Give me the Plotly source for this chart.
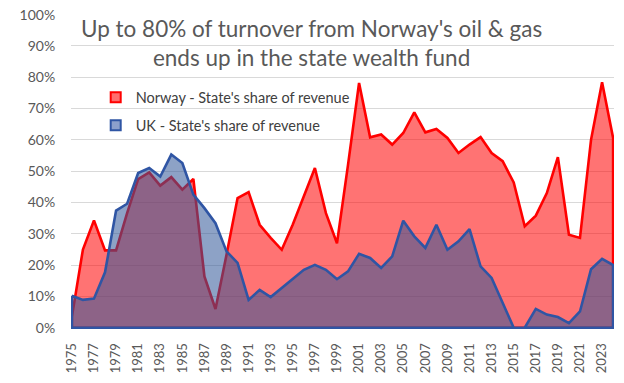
import plotly.graph_objects as go

years = list(range(1975, 2025))
norway = [3.5, 25, 34.3, 24.7, 24.7, 36.6, 47.5, 49.6, 45.4, 48.1,
          44.1, 47.5, 16.4, 6.0, 23.3, 41.4, 43.3, 32.9, 28.7, 24.9,
          33.0, 42.0, 51.0, 36.6, 27.0, 52.0, 78.2, 60.8, 61.7, 58.5,
          62.2, 68.8, 62.4, 63.5, 60.6, 55.8, 58.5, 60.9, 55.8, 53.2,
          46.4, 32.4, 35.8, 43.0, 54.5, 29.7, 28.7, 60.0, 78.4, 60.6]
uk = [10.2, 8.9, 9.3, 17.7, 37.4, 39.6, 49.4, 51.0, 48.3, 55.3,
      52.6, 42.5, 38.2, 33.4, 24.4, 20.7, 8.9, 12.1, 9.8, 12.7,
      15.5, 18.5, 20.1, 18.5, 15.5, 18.0, 23.6, 22.3, 19.1, 22.8,
      34.2, 29.2, 25.5, 32.9, 24.9, 27.6, 31.5, 19.6, 15.9, 8.0,
      0.0, 0.0, 6.0, 4.2, 3.4, 1.5, 5.2, 18.7, 22.0, 20.0]
tick_years = list(range(1975, 2025, 2))
y_ticks = [i / 10 for i in range(11)]
title_lines = ["Up to 80% of turnover from Norway's oil & gas", "ends up in the state wealth fund"]
names = ["Norway - State's share of revenue", "UK - State's share of revenue"]

FONT = "Lato"
GRAY = "#595959"

def poly(vals):
    xs = years + [years[-1], years[0], years[0]]
    ys = [v / 100 for v in vals] + [0, 0, vals[0] / 100]
    return xs, ys

fig = go.Figure()
nx, ny = poly(norway)
fig.add_trace(go.Scatter(x=nx, y=ny, mode="lines", fill="toself",
                         fillcolor="rgba(255,0,0,0.55)",
                         line=dict(color="#FF0000", width=2.6),
                         showlegend=False, hoverinfo="skip"))
ux, uy = poly(uk)
fig.add_trace(go.Scatter(x=ux, y=uy, mode="lines", fill="toself",
                         fillcolor="rgba(47,85,151,0.55)",
                         line=dict(color="#2F55A4", width=2.6),
                         showlegend=False, hoverinfo="skip"))
# legend entries
fig.add_trace(go.Scatter(x=[None], y=[None], mode="markers", name=names[0],
                         legendgroup="n",
                         marker=dict(symbol="square", size=10, color="rgba(255,110,110,1)",
                                     line=dict(color="#FF0000", width=2))))
fig.add_trace(go.Scatter(x=[None], y=[None], mode="markers", name=names[1],
                         legendgroup="u",
                         marker=dict(symbol="square", size=10, color="#8CA0CC",
                                     line=dict(color="#2F55A4", width=2))))

fig.update_layout(
    width=624, height=383,
    margin=dict(l=71, r=10, t=14, b=54, autoexpand=False),
    paper_bgcolor="white", plot_bgcolor="white",
    font=dict(family=FONT, color=GRAY),
    showlegend=True,
    legend=dict(x=0.0455, y=0.786, xanchor="left", yanchor="top",
                bgcolor="rgba(0,0,0,0)", font=dict(size=14.5, color="#404040"),
                traceorder="grouped", tracegroupgap=6, itemwidth=30),
    xaxis=dict(range=[1974.92, 2024.08], tickmode="array", tickvals=tick_years,
               ticktext=[str(y) for y in tick_years], tickangle=-90,
               tickfont=dict(size=13, color=GRAY), showgrid=False, zeroline=False,
               ticks="outside", ticklen=8, tickcolor="rgba(0,0,0,0)", automargin=False),
    yaxis=dict(range=[-0.004, 1.002], tickmode="array", tickvals=y_ticks,
               tickformat=".0%", tickfont=dict(size=14, color=GRAY),
               showgrid=True, gridcolor="#D9D9D9", gridwidth=1, zeroline=False,
               ticks="outside", ticklen=12, tickcolor="rgba(0,0,0,0)", automargin=False),
    annotations=[dict(text="<br>".join(title_lines), xref="paper", yref="paper",
                      x=0.442, y=1.003, xanchor="center", yanchor="top",
                      showarrow=False, font=dict(size=22.5, color=GRAY, family=FONT))],
)

fig.write_html("out.html", config={"displayModeBar": False},
               post_script="document.body.style.margin='0';")
